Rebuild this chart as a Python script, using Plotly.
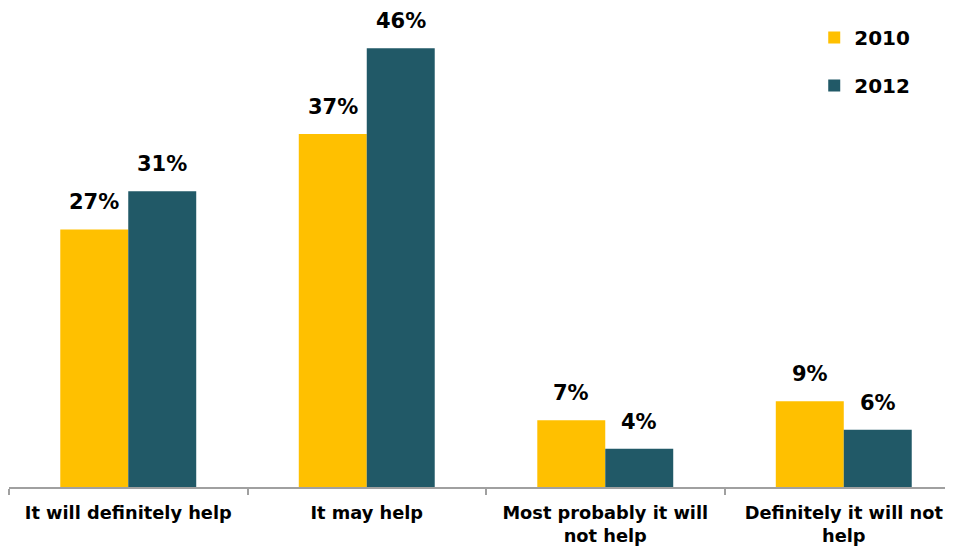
import plotly.graph_objects as go

categories = ["It will definitely help", "It may help",
              "Most probably it will<br>not help", "Definitely it will not<br>help"]
values_2010 = [27, 37, 7, 9]
values_2012 = [31, 46, 4, 6]
series_names = ["2010", "2012"]
colors = ["#FFC000", "#215967"]

FONT = "DejaVu Sans"
BARGAP = 0.43
PX_PER_CAT = 238.5

fig = go.Figure()
series = [(series_names[0], values_2010, colors[0], "a"),
          (series_names[1], values_2012, colors[1], "b")]
for name, vals, col, grp in series:
    fig.add_trace(go.Bar(
        name=name, x=categories, y=vals, marker_color=col,
        marker_line_width=0, legendgroup=grp,
    ))

# value labels, placed from the data
half_bar_px = (1 - BARGAP) / 2 * PX_PER_CAT / 2
for k, (name, vals, col, grp) in enumerate(series):
    sign = -1 if k == 0 else 1
    for cat, v in zip(categories, vals):
        fig.add_annotation(
            x=cat, y=v, text=f"{v}%", showarrow=False,
            xanchor="center", yanchor="bottom",
            xshift=sign * half_bar_px, yshift=13,
            font=dict(family=FONT, size=21, color="black", weight="bold"),
        )

fig.update_layout(
    width=945, height=543,
    margin=dict(l=1, r=0, t=2, b=64),
    barmode="group", bargap=BARGAP, bargroupgap=0,
    plot_bgcolor="white", paper_bgcolor="white",
    font=dict(family=FONT, size=19, color="black"),
    showlegend=True,
    legend=dict(x=0.853, y=0.983, xanchor="left", yanchor="top",
                traceorder="grouped", tracegroupgap=19,
                bgcolor="rgba(0,0,0,0)",
                font=dict(family=FONT, size=20, color="black", weight="bold")),
    xaxis=dict(range=[-0.5, 3.458], showline=True, linecolor="#A0A0A0", linewidth=1.5,
               ticks="outside", tickson="boundaries", ticklen=6, tickcolor="#A0A0A0",
               tickwidth=1.5, showgrid=False, ticklabelstandoff=9,
               tickfont=dict(family=FONT, size=17.8, color="black", weight="bold")),
    yaxis=dict(range=[0, 50], visible=False, showgrid=False, zeroline=False),
)

fig.write_html("out.html")
